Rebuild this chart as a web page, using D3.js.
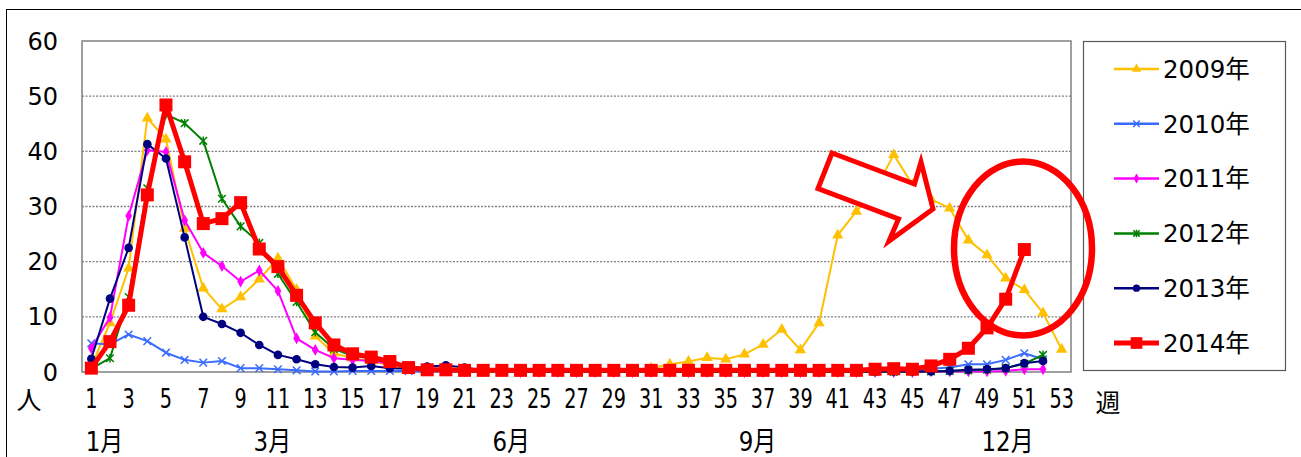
<!DOCTYPE html>
<html><head><meta charset="utf-8">
<script src="https://cdn.jsdelivr.net/npm/d3@7"></script>
<style>
html,body{margin:0;padding:0;background:#fff;}
svg{display:block;}
text{font-family:"DejaVu Sans","Noto Sans CJK JP",sans-serif;fill:#000;}
</style></head>
<body>
<svg id="c" width="1301" height="457"></svg>
<script>
const weeks = d3.range(1, 54);
const weekTickLabels = ["1","3","5","7","9","11","13","15","17","19","21","23","25","27","29","31","33","35","37","39","41","43","45","47","49","51","53"];
const yTickLabels = [0,10,20,30,40,50,60];
const monthLabels = ["1月","3月","6月","9月","12月"];
const monthPositions = [1.7, 10.7, 23.5, 36.7, 50.1];
const seriesNames = ["2009年","2010年","2011年","2012年","2013年","2014年"];

const v2009 = [1.0,8.9,18.8,46.0,42.2,26.0,15.2,11.4,13.6,16.8,
  20.6,14.9,6.5,3.4,2.5,2.0,1.2,0.6,0.3,0.2,
  0.2,0.1,0.1,0.1,0.1,0.1,0.1,0.2,0.2,0.3,
  0.7,1.4,1.9,2.6,2.3,3.2,5.0,7.7,4.0,8.9,
  24.8,29.1,33.0,39.4,34.0,31.3,29.7,23.9,21.2,17.0,
  14.9,10.7,4.1];
const v2010 = [5.2,5.0,6.8,5.6,3.5,2.2,1.7,2.0,0.7,0.7,
  0.5,0.3,0.1,0.1,0.2,0.2,0.2,0.2,0.1,0.1,
  0.1,0.1,0.1,0.1,0.1,0.1,0.1,0.1,0.1,0.1,
  0.1,0.1,0.1,0.1,0.1,0.1,0.1,0.1,0.1,0.1,
  0.1,0.1,0.1,0.1,0.2,0.6,0.8,1.4,1.4,2.2,
  3.4,2.3];
const v2011 = [4.3,9.9,28.3,40.2,39.9,27.5,21.6,19.2,16.4,18.4,
  14.7,6.1,4.0,2.5,2.2,2.0,1.5,0.8,0.4,0.2,
  0.1,0.1,0.1,0,0,0,0,0,0,0,
  0,0,0,0,0,0,0,0,0,0,
  0,0,0,0,0,0.1,0.1,0.1,0.1,0.2,
  0.5,0.5];
const v2012 = [0.6,2.5,13.6,33.3,46.7,45.1,41.9,31.4,26.4,23.4,
  17.8,12.7,7.2,4.2,2.9,2.5,1.6,0.8,0.4,0.2,
  0.1,0.1,0.1,0.1,0.1,0.1,0,0,0,0,
  0,0,0,0,0,0,0,0,0,0,
  0,0,0,0,0.1,0.1,0.2,0.3,0.4,0.7,
  1.5,3.1];
const v2013 = [2.4,13.3,22.5,41.3,38.7,24.4,10.0,8.7,7.1,4.9,
  3.1,2.3,1.4,0.9,0.8,1.1,0.7,0.6,1.0,1.2,
  0.8,0.3,0.2,0.1,0.1,0.1,0.1,0.1,0.1,0.1,
  0.1,0.1,0.1,0.1,0.1,0.1,0.1,0.1,0.1,0.1,
  0.1,0.1,0.1,0.1,0.1,0.1,0.2,0.4,0.5,0.7,
  1.6,2.0];
const v2014 = [0.7,5.5,12.1,32.1,48.4,38.1,26.9,27.8,30.7,22.3,
  19.1,13.9,8.9,4.9,3.3,2.7,1.9,0.8,0.4,0.4,
  0.3,0.3,0.3,0.3,0.3,0.3,0.3,0.3,0.3,0.3,
  0.3,0.3,0.3,0.3,0.3,0.3,0.3,0.3,0.3,0.3,
  0.3,0.3,0.5,0.6,0.5,1.1,2.3,4.3,8.0,13.2,
  22.2];

const seriesValues = [v2009, v2010, v2011, v2012, v2013, v2014];
const colors = ["#FFC000","#3A6BFF","#FF00FF","#008000","#000080","#FF0000"];
const markers = ["triangle","x","diamond","star","circle","square"];
const lineWidths = [2,2,2,2,2,5];

const svg = d3.select("#c");
const L = 82, R = 1071, T = 41, B = 372;
const x = d3.scaleLinear().domain([0.5, 53.5]).range([L, R]);
const y = d3.scaleLinear().domain([0, 60]).range([B, T]);

// outer frame
svg.append("rect").attr("x",6.5).attr("y",9.5).attr("width",1400).attr("height",600)
  .attr("fill","none").attr("stroke","#000").attr("stroke-width",1);

// gridlines
svg.append("g").selectAll("line").data(yTickLabels.filter(d=>d>0 && d<60)).join("line")
  .attr("x1",L).attr("x2",R).attr("y1",d=>y(d)).attr("y2",d=>y(d))
  .attr("stroke","#808080").attr("stroke-width",1.4).attr("stroke-dasharray","2,1.5");

// plot border
svg.append("rect").attr("x",L).attr("y",T).attr("width",R-L).attr("height",B-T)
  .attr("fill","none").attr("stroke","#808080").attr("stroke-width",1.5);

// y labels
svg.append("g").selectAll("text").data(yTickLabels).join("text")
  .attr("x",58).attr("y",d=>y(d)).attr("dy","0.36em").attr("text-anchor","end")
  .style("font-size","24px").text(d=>d);

// x tick labels
svg.append("g").selectAll("text").data(weekTickLabels).join("text")
  .attr("transform",d=>`translate(${x(+d)},408) scale(0.74,1)`)
  .attr("text-anchor","middle").style("font-size","26px").text(d=>d);

// month labels
svg.append("g").selectAll("text").data(monthLabels).join("text")
  .attr("transform",(d,i)=>`translate(${x(monthPositions[i])},451) scale(0.85,1)`)
  .attr("text-anchor","middle").style("font-size","27px").text(d=>d);

svg.append("text").attr("x",29).attr("y",409).attr("text-anchor","middle").style("font-size","25px").text("人");
svg.append("text").attr("x",1108).attr("y",412).attr("text-anchor","middle").style("font-size","25px").text("週");

function drawMarker(g, type, color, s) {
  s = s || 1;
  if (type === "triangle") {
    g.append("path").attr("d", d3.symbol().type(d3.symbolTriangle).size(55*s*s)()).attr("fill",color);
  } else if (type === "x") {
    const a = 3.8*s;
    g.append("path").attr("d",`M${-a},${-a}L${a},${a}M${-a},${a}L${a},${-a}`).attr("stroke",color).attr("stroke-width",1.5).attr("fill","none");
  } else if (type === "diamond") {
    g.append("path").attr("d", d3.symbol().type(d3.symbolDiamond).size(40*s*s)()).attr("fill",color);
  } else if (type === "star") {
    const a = 3.8*s;
    g.append("path").attr("d",`M${-a},${-a}L${a},${a}M${-a},${a}L${a},${-a}M0,${-a-0.5}L0,${a+0.5}`).attr("stroke",color).attr("stroke-width",1.5).attr("fill","none");
  } else if (type === "circle") {
    g.append("circle").attr("r",4.3*s).attr("fill",color);
  } else if (type === "square") {
    g.append("rect").attr("x",-6.5*s).attr("y",-6.5*s).attr("width",13*s).attr("height",13*s).attr("fill",color);
  }
}

const line = d3.line().x((d,i)=>x(i+1)).y(d=>y(d));
seriesValues.forEach((vals, si) => {
  const g = svg.append("g");
  g.append("path").datum(vals).attr("d", line).attr("fill","none")
    .attr("stroke", colors[si]).attr("stroke-width", lineWidths[si]).attr("stroke-linejoin","round");
  vals.forEach((v, i) => {
    const mg = g.append("g").attr("transform", `translate(${x(i+1)},${y(v)})`);
    drawMarker(mg, markers[si], colors[si]);
  });
});

// legend
const lg = svg.append("g");
lg.append("rect").attr("x",1083.5).attr("y",41.5).attr("width",202).attr("height",329)
  .attr("fill","#fff").attr("stroke","#595959").attr("stroke-width",1.2);
seriesNames.forEach((name, i) => {
  const cy = 69 + i*54.8;
  lg.append("line").attr("x1",1114).attr("x2",1159).attr("y1",cy).attr("y2",cy)
    .attr("stroke",colors[i]).attr("stroke-width", i===5?5:2.5);
  const mg = lg.append("g").attr("transform",`translate(1136.5,${cy})`);
  drawMarker(mg, markers[i], colors[i], i===5?0.9:0.85);
  lg.append("text").attr("x",1163).attr("y",cy).attr("dy","0.36em").style("font-size","24.5px").text(name);
});

// annotations: arrow and ellipse
const arrow = [[832,153],[914.5,184],[921,162],[933,209],[889,241],[898.5,219],[818,188.5]];
svg.append("path").attr("d", "M" + arrow.map(p=>p.join(",")).join("L") + "Z")
  .attr("fill","#fff").attr("stroke","#FF0000").attr("stroke-width",5).attr("stroke-linejoin","miter");
svg.append("ellipse").attr("cx",1023).attr("cy",248.5).attr("rx",69).attr("ry",87)
  .attr("fill","none").attr("stroke","#FF0000").attr("stroke-width",6.5);
</script>
</body></html>
